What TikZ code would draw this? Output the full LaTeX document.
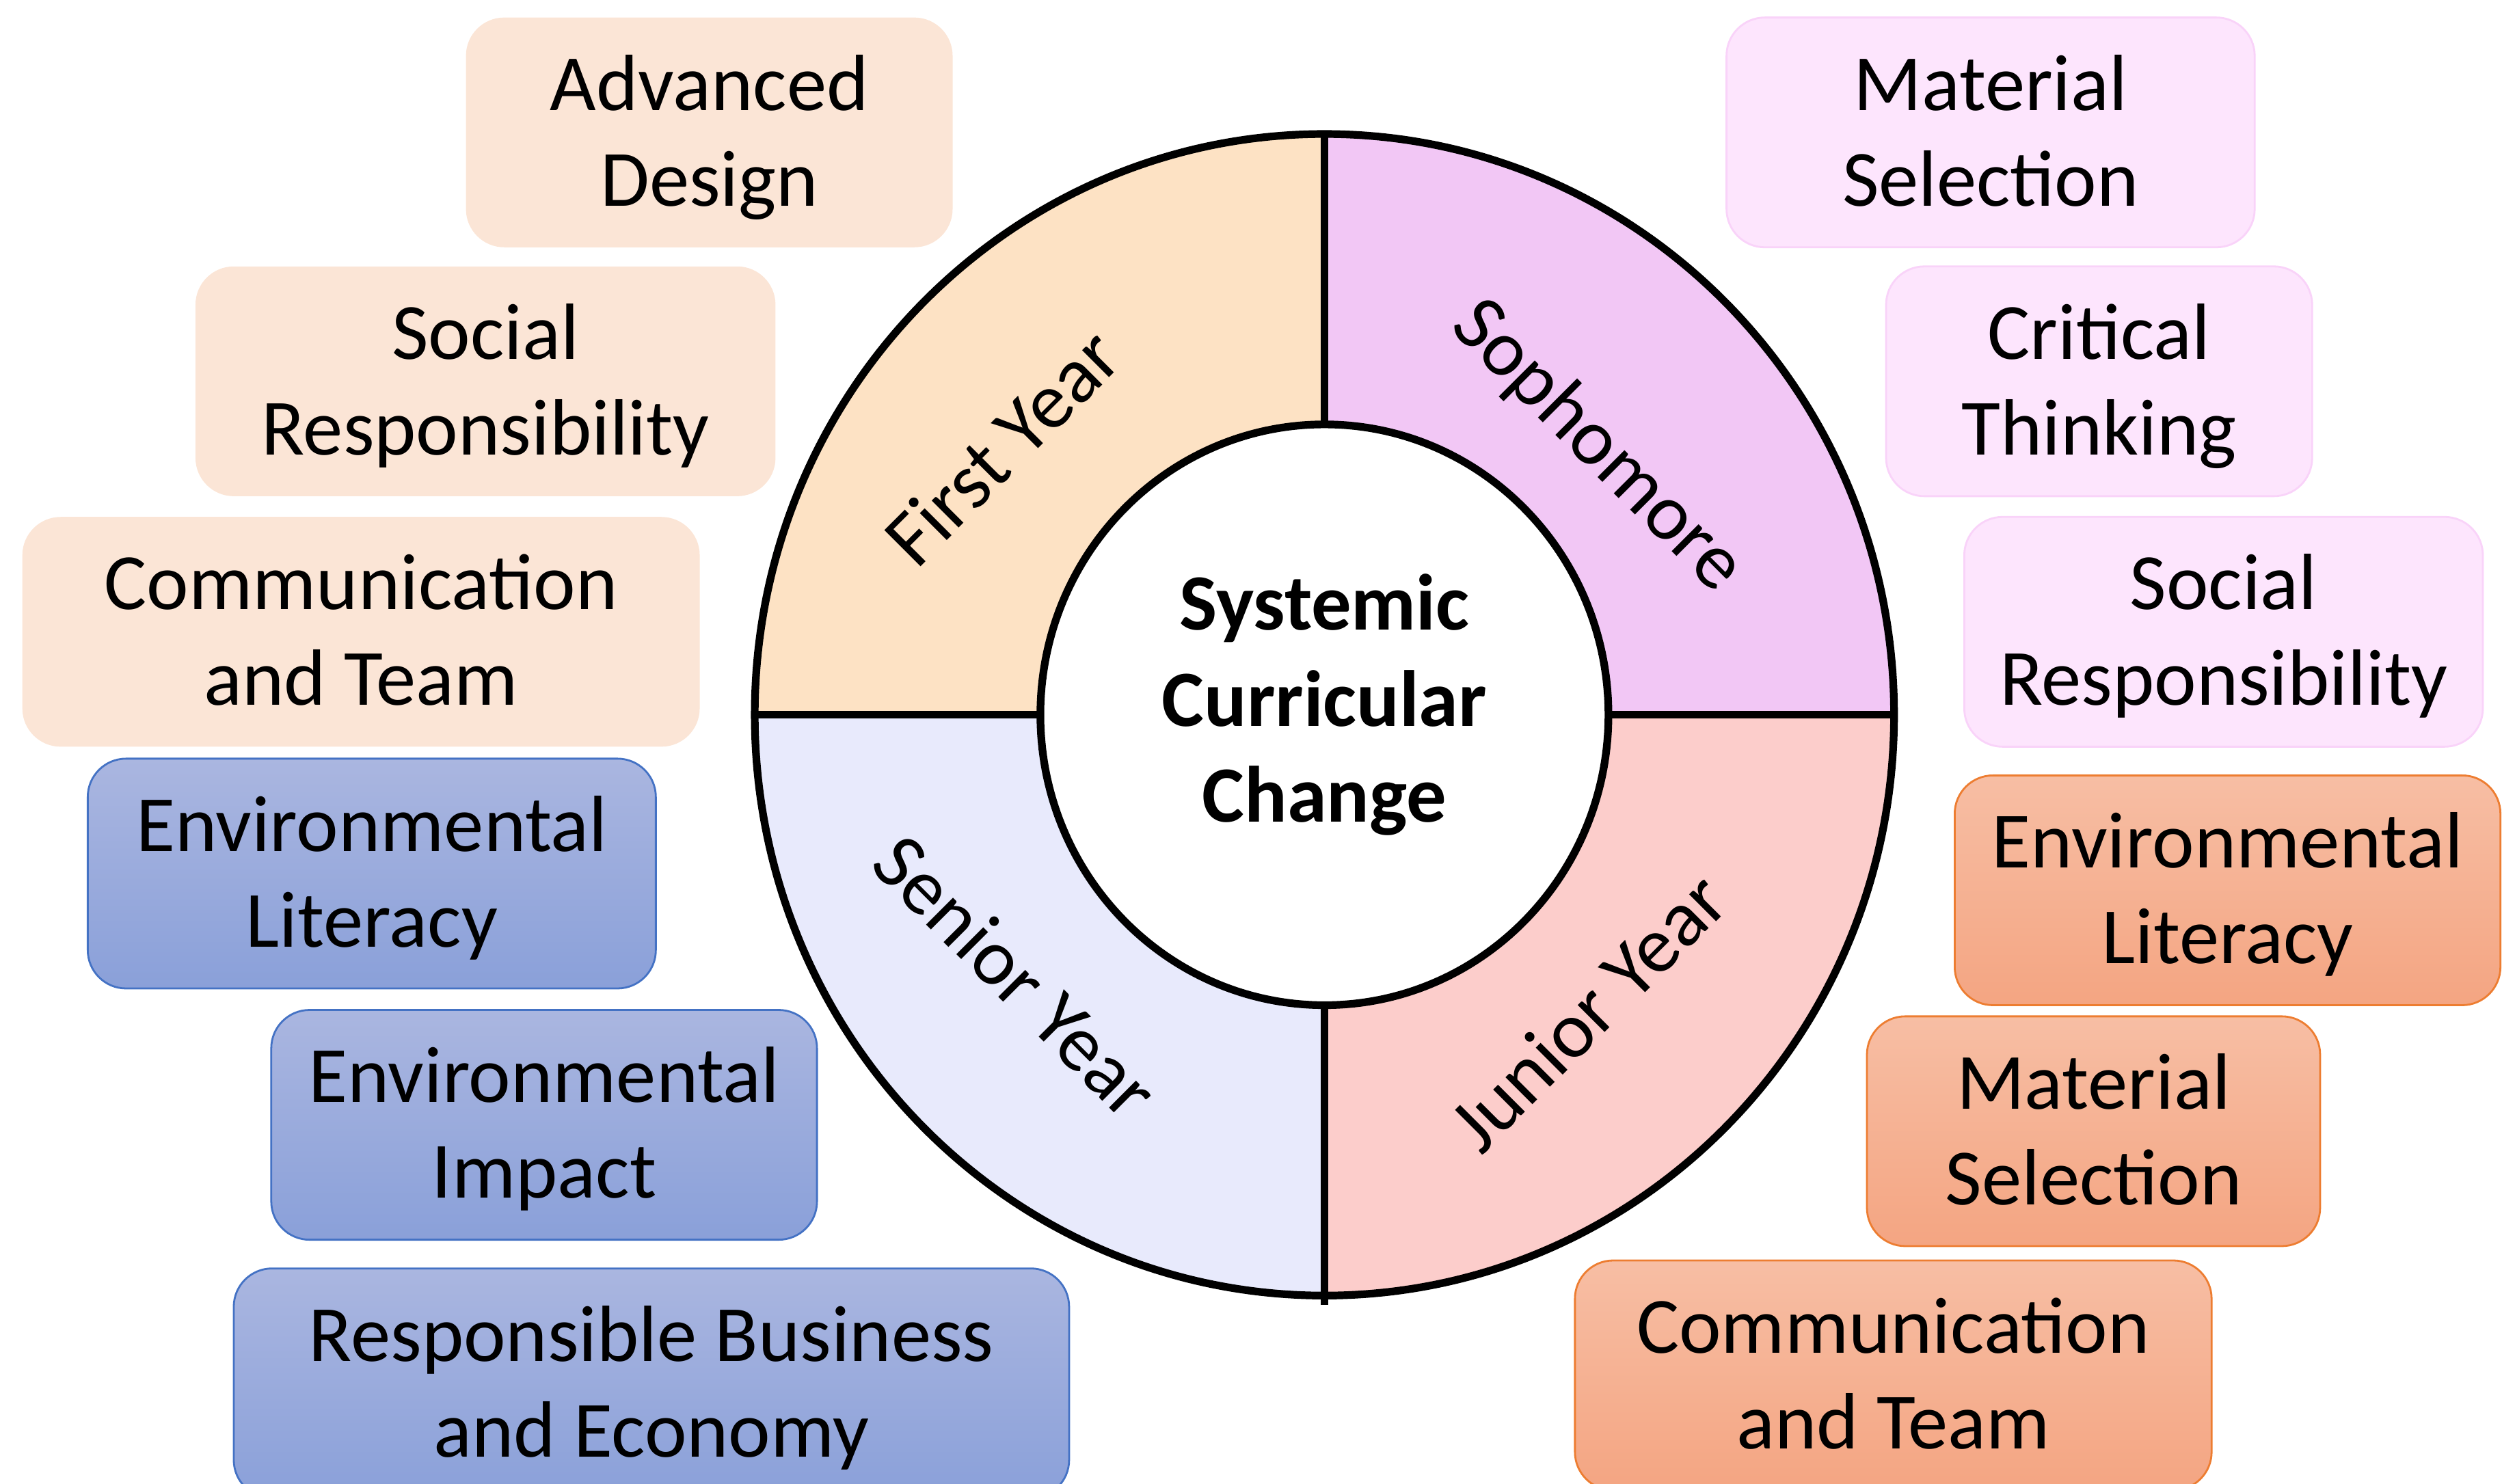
\documentclass[tikz,border=0pt]{standalone}
\usepackage{fontspec}
\setmainfont{Carlito}
\definecolor{fyear}{RGB}{253,226,196}
\definecolor{soph}{RGB}{242,199,245}
\definecolor{junior}{RGB}{252,205,203}
\definecolor{senior}{RGB}{232,234,252}
\definecolor{peachbox}{RGB}{251,229,214}
\definecolor{pinkbox}{RGB}{253,229,253}
\definecolor{pinkline}{RGB}{249,211,249}
\definecolor{bluetop}{RGB}{170,182,224}
\definecolor{bluebot}{RGB}{138,160,217}
\definecolor{blueline}{RGB}{68,114,196}
\definecolor{orangetop}{RGB}{247,190,164}
\definecolor{orangebot}{RGB}{244,165,130}
\definecolor{orangeline}{RGB}{237,125,49}
\begin{document}
\begin{tikzpicture}[x=0.5pt,y=0.5pt,
    box/.style={rounded corners=12pt,minimum height=72pt,inner sep=0pt,align=center,
      text height=50pt,text depth=4pt,font=\fontsize{25}{30}\selectfont},
    peach/.style={box,fill=peachbox},
    pinkb/.style={box,fill=pinkbox,draw=pinkline,line width=0.6pt},
    blueb/.style={box,top color=bluetop,bottom color=bluebot,draw=blueline,line width=0.6pt},
    orangeb/.style={box,top color=orangetop,bottom color=orangebot,draw=orangeline,line width=0.6pt},
    year/.style={font=\fontsize{25}{30}\selectfont},
    ring/.style={line width=2.4pt}]
  \useasboundingbox (0,0) rectangle (1568,930);
  \clip (0,0) rectangle (1568,930);
  \coordinate (c) at (830,482);
  % the four years
  \fill[fyear] (c) -- ++(-357,0) arc[start angle=180,end angle=90,x radius=357,y radius=364] -- cycle;
  \fill[soph] (c) -- ++(0,364) arc[start angle=90,end angle=0,x radius=357,y radius=364] -- cycle;
  \fill[junior] (c) -- ++(357,0) arc[start angle=0,end angle=-90,x radius=357,y radius=364] -- cycle;
  \fill[senior] (c) -- ++(0,-364) arc[start angle=-90,end angle=-180,x radius=357,y radius=364] -- cycle;
  \draw[ring] (830,846) -- (830,112);
  \draw[ring] (473,482) -- (1187,482);
  \draw[ring] (c) ellipse[x radius=357,y radius=364];
  \filldraw[ring,fill=white] (c) ellipse[x radius=178,y radius=182];
  \node[font=\bfseries\fontsize{25}{30}\selectfont,align=center,inner sep=0pt,
    text height=72pt,text depth=5pt] (hub) at (c) {Systemic\\Curricular\\Change};
  \draw
    (628,650) node[year,rotate=45] (fy) {First Year}
    (1001,650) node[year,rotate=-45] (so) {Sophomore}
    (995,296) node[year,rotate=45] (jy) {Junior Year}
    (637,318) node[year,rotate=-45] (sy) {Senior Year};
  % left side
  \draw
    (444.5,847) node[peach,minimum width=152.5pt] (1) {Advanced\\Design}
    (304.25,691) node[peach,minimum width=181.75pt] (2) {Social\\Responsibility}
    (226.25,534) node[peach,minimum width=212.25pt] (3) {Communication\\and Team}
    (233,382.5) node[blueb,minimum width=178pt] (4) {Environmental\\Literacy}
    (341,225) node[blueb,minimum width=171pt] (5) {Environmental\\Impact}
    (408.25,63) node[blueb,minimum width=261.75pt] (6) {Responsible Business\\and Economy};
  % right side
  \draw
    (1247.5,847) node[pinkb,minimum width=165.5pt] (7) {Material\\Selection}
    (1315.5,691) node[pinkb,minimum width=133.5pt] (8) {Critical\\Thinking}
    (1393.5,534) node[pinkb,minimum width=162.5pt] (9) {Social\\Responsibility}
    (1396,372) node[orangeb,minimum width=171pt] (10) {Environmental\\Literacy}
    (1312,221) node[orangeb,minimum width=142pt] (11) {Material\\Selection}
    (1186.5,68) node[orangeb,minimum width=199.5pt] (12) {Communication\\and Team};
\end{tikzpicture}
\end{document}
